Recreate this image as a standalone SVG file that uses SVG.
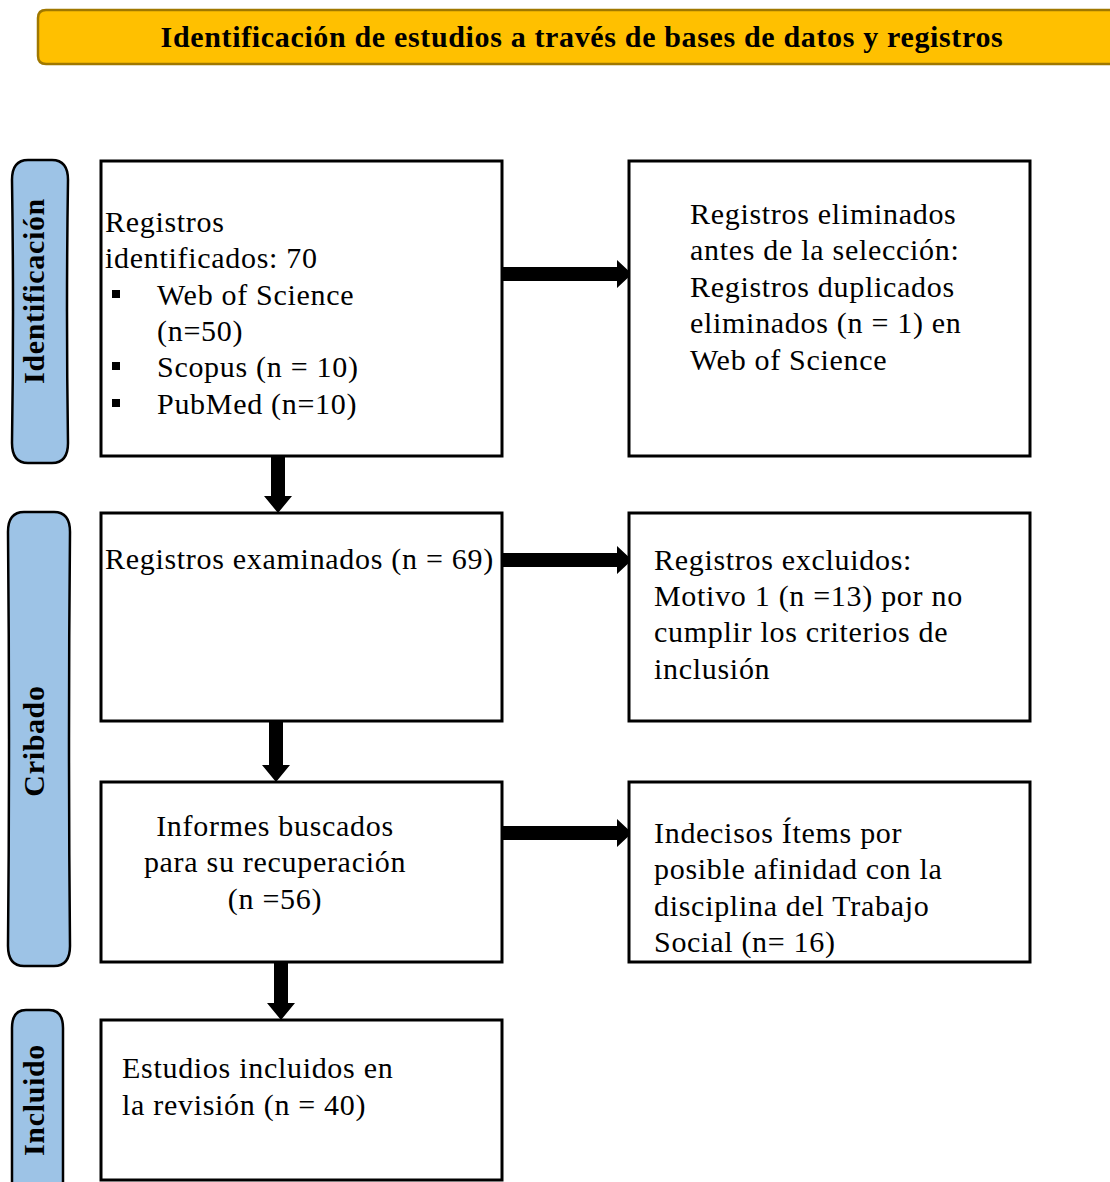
<svg xmlns="http://www.w3.org/2000/svg" width="1110" height="1182" viewBox="0 0 1110 1182">
<style>
.box{fill:#fff;stroke:#000;stroke-width:3}
.side{fill:#9DC3E6;stroke:#000;stroke-width:2.5}
.t{font-family:"Liberation Serif","DejaVu Serif",serif;font-size:30px;letter-spacing:0.7px;fill:#000}
.sl{font-family:"Liberation Serif","DejaVu Serif",serif;font-size:30px;letter-spacing:0.65px;font-weight:bold;fill:#000}
</style>
<rect width="1110" height="1182" fill="#fff"/>
<g id="header">
<path d="M46,10 L1120,10 L1120,64 L46,64 Q38,64 38,56 L38,18 Q38,10 46,10 Z" fill="#FFC000" stroke="#A07800" stroke-width="2.5"/>
<text class="sl" x="582" y="47" text-anchor="middle">Identificación de estudios a través de bases de datos y registros</text>
</g>
<g id="side-identificacion">
<path class="side" d="M28,160 L52,160 Q68,160 68,180 Q66,311 68,443 Q68,463 52,463 L28,463 Q12,463 12,443 Q14,311 12,180 Q12,160 28,160 Z"/>
<text class="sl" transform="translate(44,291) rotate(-90)" text-anchor="middle">Identificación</text>
</g>
<g id="side-cribado">
<path class="side" d="M24,512 L54,512 Q70,512 70,532 Q68,739 70,946 Q70,966 54,966 L24,966 Q8,966 8,946 Q10,739 8,532 Q8,512 24,512 Z"/>
<text class="sl" transform="translate(44,741) rotate(-90)" text-anchor="middle">Cribado</text>
</g>
<g id="side-incluido">
<path class="side" d="M26,1010 L49,1010 Q63,1010 63,1028 L63,1200 L12,1200 L12,1028 Q12,1010 26,1010 Z"/>
<text class="sl" transform="translate(44,1100) rotate(-90)" text-anchor="middle">Incluido</text>
</g>
<g id="connectors" fill="#000">
<path d="M502,267 L617,267 L617,260 L632,274 L617,288 L617,281 L502,281 Z"/>
<path d="M502,553 L617,553 L617,546 L632,560 L617,574 L617,567 L502,567 Z"/>
<path d="M502,826 L617,826 L617,819 L632,833 L617,847 L617,840 L502,840 Z"/>
<path d="M271,456 L285,456 L285,496 L292,496 L278,513 L264,496 L271,496 Z"/>
<path d="M269,721 L283,721 L283,765 L290,765 L276,782 L262,765 L269,765 Z"/>
<path d="M274,962 L288,962 L288,1003 L295,1003 L281,1020 L267,1003 L274,1003 Z"/>
</g>
<g id="n1">
<rect class="box" x="101" y="161" width="401" height="295"/>
<text class="t" x="105" y="232">Registros</text>
<text class="t" x="105" y="268">identificados: 70</text>
<rect x="112" y="290" width="8" height="8"/>
<rect x="112" y="362" width="8" height="8"/>
<rect x="112" y="399" width="8" height="8"/>
<text class="t" x="157" y="305">Web of Science</text>
<text class="t" x="157" y="341">(n=50)</text>
<text class="t" x="157" y="377">Scopus (n = 10)</text>
<text class="t" x="157" y="414">PubMed (n=10)</text>
</g>
<g id="n2">
<rect class="box" x="629" y="161" width="401" height="295"/>
<text class="t" x="690" y="224">Registros eliminados</text>
<text class="t" x="690" y="260">antes de la selección:</text>
<text class="t" x="690" y="297">Registros duplicados</text>
<text class="t" x="690" y="333">eliminados (n = 1) en</text>
<text class="t" x="690" y="370">Web of Science</text>
</g>
<g id="n3">
<rect class="box" x="101" y="513" width="401" height="208"/>
<text class="t" x="105" y="569">Registros examinados (n = 69)</text>
</g>
<g id="n4">
<rect class="box" x="629" y="513" width="401" height="208"/>
<text class="t" x="654" y="570">Registros excluidos:</text>
<text class="t" x="654" y="606">Motivo 1 (n =13) por no</text>
<text class="t" x="654" y="642">cumplir los criterios de</text>
<text class="t" x="654" y="679">inclusión</text>
</g>
<g id="n5">
<rect class="box" x="101" y="782" width="401" height="180"/>
<text class="t" x="275" y="836" text-anchor="middle">Informes buscados</text>
<text class="t" x="275" y="872" text-anchor="middle">para su recuperación</text>
<text class="t" x="275" y="909" text-anchor="middle">(n =56)</text>
</g>
<g id="n6">
<rect class="box" x="629" y="782" width="401" height="180"/>
<text class="t" x="654" y="843">Indecisos Ítems por</text>
<text class="t" x="654" y="879">posible afinidad con la</text>
<text class="t" x="654" y="916">disciplina del Trabajo</text>
<text class="t" x="654" y="952">Social (n= 16)</text>
</g>
<g id="n7">
<rect class="box" x="101" y="1020" width="401" height="160"/>
<text class="t" x="122" y="1078">Estudios incluidos en</text>
<text class="t" x="122" y="1115">la revisión (n = 40)</text>
</g>
</svg>
